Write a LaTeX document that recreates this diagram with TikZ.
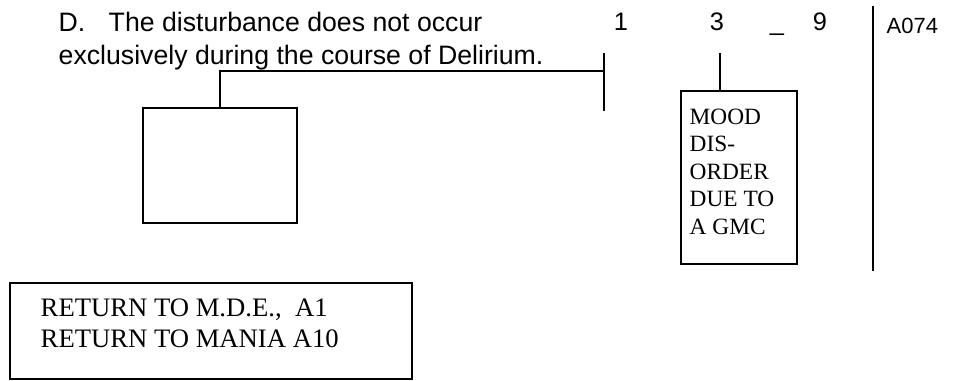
\documentclass[tikz,border=0pt]{standalone}
\usepackage{fontspec}
\setmainfont{Liberation Serif}
\newfontfamily\arial{Liberation Sans}
\begin{document}
\begin{tikzpicture}[x=0.75pt,y=-0.75pt,line width=1.1pt,
  box/.style={draw,inner sep=0pt},
  sanstxt/.style={font=\arial\fontsize{20}{25}\selectfont,inner sep=0pt},
  digit/.style={font=\arial\fontsize{19}{23}\selectfont,inner sep=0pt,anchor=base},
  codetxt/.style={font=\arial\fontsize{16.5}{20}\selectfont,inner sep=0pt,anchor=base west},
  moodtxt/.style={font=\fontsize{17.5}{20.6}\selectfont,inner sep=0pt,align=left,anchor=north west},
  rettxt/.style={font=\fontsize{20}{23}\selectfont,inner sep=0pt,anchor=base west}]
\useasboundingbox (0,0) rectangle (957,380);
% question text
\node[sanstxt,anchor=base west] (d1) at (58,31) {D.\hspace{17.5pt}The disturbance does not occur};
\node[sanstxt,anchor=base west] (d2) at (58,64) {exclusively during the course of Delirium.};
% column numbers
\node[digit] (n1) at (621,30) {1};
\node[digit] (n3) at (717,30) {3};
\node[digit] (nu) at (777,30) {\_};
\node[digit] (n9) at (820,30) {9};
\node[codetxt] (code) at (886,33) {A074};
% right rule
\coordinate (rt) at (873,6);
\coordinate (rb) at (873,271);
\draw (rt) -- (rb);
% bar under "1"
\coordinate (bt) at (604,53);
\coordinate (bb) at (604,111);
\coordinate (bm) at (604,71);
\draw (bt) -- (bb);
% empty box
\node[box,minimum width=115.5pt,minimum height=86.25pt] (e) at (220,165.5) {};
\draw (e.north) |- (bm);
% mood disorder box
\node[box,minimum width=87pt,minimum height=129.75pt] (m) at (739,177.5) {};
\node[moodtxt] (mt) at (689,108) {MOOD\\DIS-\\ORDER\\DUE TO\\A GMC};
\coordinate (c3) at (720,53);
\draw (c3) -- (c3 |- m.north);
% return box
\node[box,minimum width=301.5pt,minimum height=72pt] (r) at (211,331) {};
\node[rettxt] (r1) at (40,316) {RETURN TO M.D.E.,\ \ A1};
\node[rettxt] (r2) at (40,347) {RETURN TO MANIA A10};
\end{tikzpicture}
\end{document}
